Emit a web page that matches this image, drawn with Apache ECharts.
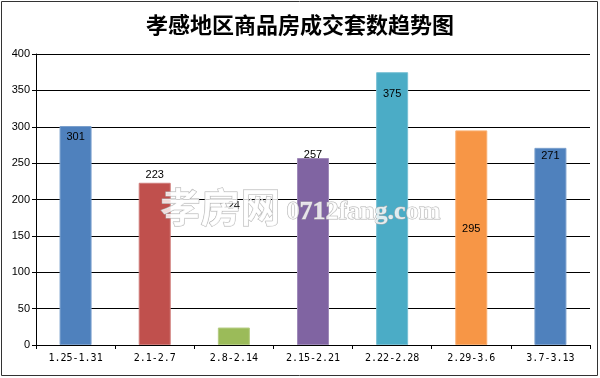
<!DOCTYPE html>
<html><head><meta charset="utf-8">
<script src="https://cdn.jsdelivr.net/npm/echarts@6/dist/echarts.min.js"></script>
<style>html,body{margin:0;padding:0;background:#fff}#c{width:600px;height:378px}</style>
</head><body><div id="c"></div>
<script>
var categories = ['1.25-1.31','2.1-2.7','2.8-2.14','2.15-2.21','2.22-2.28','2.29-3.6','3.7-3.13'];
var values = [301, 223, 24, 257, 375, 295, 271];
var colors = ['#4F81BD','#C0504D','#9BBB59','#8064A2','#4BACC6','#F79646','#4F81BD'];
var yTicks = [0, 50, 100, 150, 200, 250, 300, 350, 400];
var labelPos = [
  {position:'insideTop', distance:5},
  {position:'top', distance:2},
  {position:'top', distance:116},
  {position:'top', distance:-2},
  {position:'insideTop', distance:16},
  {position:'inside', offset:[0,-9]},
  {position:'insideTop', distance:3}
];
var chart = echarts.init(document.getElementById('c'));
chart.setOption({
  animation:false,
  title:{text:'孝感地区商品房成交套数趋势图', left:'center', top:9,
    textStyle:{fontFamily:'Noto Sans CJK SC', fontSize:22, fontWeight:'bold', color:'#000'}},
  grid:{left:36, right:10, top:54, bottom:33},
  xAxis:{type:'category', data:categories,
    axisLine:{lineStyle:{color:'#000', width:1}},
    axisTick:{show:true, length:4, lineStyle:{color:'#000'}},
    axisLabel:{color:'#000', fontFamily:'DejaVu Sans Mono', fontSize:10, margin:8}},
  yAxis:{type:'value', min:yTicks[0], max:yTicks[yTicks.length-1], interval:50,
    axisLine:{show:true, lineStyle:{color:'#000'}},
    axisTick:{show:true, length:4, lineStyle:{color:'#000'}},
    splitLine:{lineStyle:{color:'#000', width:1}},
    axisLabel:{color:'#000', fontFamily:'Liberation Sans', fontSize:11, margin:6}},
  series:[{type:'bar', barWidth:32,
    data: values.map(function(v,i){
      return {value:v, itemStyle:{color:colors[i], borderColor:echarts.color.lift(colors[i],0.25), borderWidth:1},
        label:Object.assign({show:true, color:'#000', fontFamily:'Liberation Sans', fontSize:11}, labelPos[i])};
    })}],
  graphic:[
    {type:'rect', shape:{x:1.5, y:1.5, width:596, height:374}, style:{fill:'none', stroke:'#333', lineWidth:1}, z:100},
    {type:'text', left:160, top:186, z:100, style:{text:'孝房网', font:'bold 40px "Noto Sans CJK SC"', fill:'rgba(255,255,255,0.8)', stroke:'#b0b0b0', lineWidth:1}},
    {type:'text', left:286, top:199, z:100, style:{text:'0712fang.com', font:'bold 26px "Liberation Serif"', fill:'rgba(255,255,255,0.8)', stroke:'#b0b0b0', lineWidth:1}}
  ]
});
</script></body></html>
